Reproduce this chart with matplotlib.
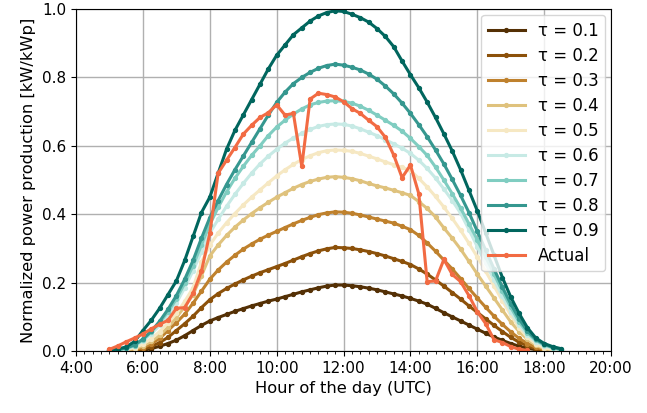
import numpy as np
import matplotlib
matplotlib.use("Agg")
import matplotlib.pyplot as plt
from matplotlib.ticker import MultipleLocator, FuncFormatter

# 15-minute time steps, 5:00 .. 18:30 (hours of the day, UTC)
hours = np.arange(5.0, 18.5 + 0.01, 0.25)

taus = [0.1, 0.2, 0.3, 0.4, 0.5, 0.6, 0.7, 0.8, 0.9]

q10 = [0, 0, 0, 0, 0.002, 0.007, 0.014, 0.022, 0.032, 0.045, 0.06, 0.075,
       0.088, 0.098, 0.107, 0.116, 0.124, 0.132, 0.139, 0.146, 0.152, 0.159,
       0.166, 0.173, 0.179, 0.185, 0.19, 0.193, 0.193, 0.191, 0.188, 0.184,
       0.179, 0.173, 0.167, 0.161, 0.154, 0.146, 0.137, 0.125, 0.112, 0.1,
       0.088, 0.076, 0.064, 0.052, 0.041, 0.031, 0.022, 0.014, 0.008, 0.004,
       0.001, 0, 0]
q20 = [0, 0, 0, 0.001, 0.005, 0.013, 0.025, 0.04, 0.06, 0.08, 0.102, 0.127,
       0.15, 0.168, 0.183, 0.196, 0.208, 0.219, 0.229, 0.238, 0.247, 0.256,
       0.266, 0.276, 0.285, 0.293, 0.299, 0.303, 0.302, 0.3, 0.296, 0.291,
       0.285, 0.278, 0.27, 0.262, 0.253, 0.24, 0.225, 0.208, 0.19, 0.171,
       0.152, 0.132, 0.113, 0.094, 0.075, 0.057, 0.04, 0.026, 0.015, 0.007,
       0.002, 0, 0]
q30 = [0, 0, 0.001, 0.004, 0.01, 0.021, 0.037, 0.06, 0.083, 0.108, 0.14,
       0.175, 0.21, 0.237, 0.26, 0.28, 0.298, 0.313, 0.327, 0.339, 0.35,
       0.361, 0.372, 0.382, 0.391, 0.399, 0.404, 0.407, 0.406, 0.403, 0.398,
       0.392, 0.386, 0.38, 0.374, 0.365, 0.355, 0.338, 0.316, 0.292, 0.266,
       0.24, 0.212, 0.183, 0.155, 0.128, 0.102, 0.078, 0.056, 0.037, 0.022,
       0.011, 0.004, 0.001, 0]
q40 = [0, 0.001, 0.003, 0.007, 0.015, 0.028, 0.046, 0.07, 0.098, 0.13,
       0.165, 0.22, 0.278, 0.31, 0.338, 0.362, 0.383, 0.402, 0.419, 0.435,
       0.45, 0.463, 0.476, 0.487, 0.496, 0.503, 0.508, 0.51, 0.508, 0.504,
       0.498, 0.49, 0.483, 0.477, 0.47, 0.463, 0.455, 0.437, 0.417, 0.392,
       0.36, 0.33, 0.298, 0.262, 0.225, 0.19, 0.155, 0.12, 0.085, 0.057,
       0.034, 0.017, 0.007, 0.002, 0]
q50 = [0, 0.002, 0.005, 0.01, 0.02, 0.036, 0.057, 0.082, 0.11, 0.145, 0.185,
       0.26, 0.31, 0.345, 0.375, 0.402, 0.427, 0.45, 0.471, 0.492, 0.512,
       0.53, 0.546, 0.56, 0.571, 0.58, 0.586, 0.588, 0.587, 0.584, 0.578,
       0.57, 0.562, 0.553, 0.545, 0.537, 0.528, 0.505, 0.48, 0.452, 0.421,
       0.388, 0.353, 0.315, 0.275, 0.233, 0.19, 0.147, 0.105, 0.068, 0.04,
       0.021, 0.01, 0.004, 0.001]
q60 = [0.001, 0.003, 0.006, 0.014, 0.03, 0.05, 0.075, 0.105, 0.14, 0.185,
       0.235, 0.29, 0.345, 0.385, 0.423, 0.458, 0.49, 0.52, 0.547, 0.57,
       0.59, 0.608, 0.623, 0.637, 0.648, 0.657, 0.662, 0.664, 0.663, 0.658,
       0.65, 0.64, 0.63, 0.618, 0.606, 0.593, 0.578, 0.558, 0.534, 0.506,
       0.474, 0.44, 0.403, 0.355, 0.305, 0.257, 0.208, 0.16, 0.115, 0.076,
       0.047, 0.027, 0.015, 0.008, 0.003]
q70 = [0.002, 0.004, 0.008, 0.016, 0.033, 0.056, 0.083, 0.115, 0.152,
       0.198, 0.25, 0.31, 0.37, 0.42, 0.465, 0.505, 0.54, 0.572, 0.6, 0.63,
       0.655, 0.675, 0.693, 0.708, 0.72, 0.727, 0.731, 0.732, 0.73, 0.725,
       0.716, 0.704, 0.69, 0.675, 0.66, 0.643, 0.622, 0.598, 0.572, 0.538,
       0.5, 0.46, 0.418, 0.372, 0.325, 0.275, 0.225, 0.175, 0.128, 0.085,
       0.053, 0.031, 0.018, 0.01, 0.004]
q80 = [0.002, 0.004, 0.009, 0.018, 0.035, 0.058, 0.087, 0.122, 0.162, 0.21,
       0.265, 0.33, 0.39, 0.44, 0.487, 0.53, 0.57, 0.61, 0.65, 0.69, 0.727,
       0.757, 0.782, 0.8, 0.815, 0.827, 0.835, 0.839, 0.836, 0.83, 0.822,
       0.81, 0.795, 0.775, 0.752, 0.725, 0.695, 0.662, 0.627, 0.588, 0.547,
       0.502, 0.455, 0.405, 0.35, 0.295, 0.24, 0.187, 0.138, 0.094, 0.058,
       0.034, 0.02, 0.011, 0.005]
q90 = [0.003, 0.006, 0.012, 0.028, 0.06, 0.09, 0.125, 0.165, 0.205, 0.265,
       0.335, 0.405, 0.45, 0.52, 0.59, 0.645, 0.69, 0.735, 0.78, 0.825,
       0.865, 0.895, 0.925, 0.945, 0.965, 0.98, 0.99, 0.995, 0.993, 0.985,
       0.975, 0.962, 0.943, 0.92, 0.89, 0.848, 0.808, 0.77, 0.728, 0.683,
       0.635, 0.585, 0.53, 0.47, 0.41, 0.345, 0.28, 0.215, 0.158, 0.11,
       0.068, 0.038, 0.022, 0.013, 0.007]

actual = [0.005, 0.015, 0.027, 0.038, 0.05, 0.065, 0.078, 0.09, 0.125, 0.127,
          0.169, 0.233, 0.344, 0.52, 0.558, 0.595, 0.634, 0.66, 0.683, 0.697,
          0.72, 0.69, 0.695, 0.54, 0.737, 0.754, 0.75, 0.743, 0.729, 0.709,
          0.695, 0.675, 0.656, 0.625, 0.573, 0.507, 0.544, 0.46, 0.203, 0.205,
          0.268, 0.224, 0.203, 0.162, 0.115, 0.08, 0.033, 0.025, 0.013, 0.005,
          0.002, np.nan, np.nan, np.nan, np.nan]

quantiles = [q10, q20, q30, q40, q50, q60, q70, q80, q90]
colors = ['#543005', '#8c510a', '#bf812d', '#dfc27d', '#f6e8c3',
          '#c7eae5', '#80cdc1', '#35978f', '#01665e']

fig = plt.figure(figsize=(6.47, 4.13), dpi=100)
ax = fig.add_axes([0.1175, 0.150, 0.827, 0.828])

for tau, q, c in zip(taus, quantiles, colors):
    ax.plot(hours, q, color=c, lw=2.2, marker='o', ms=2.8, label=f'τ = {tau}')
ax.plot(hours, actual, color='#f26b43', lw=2.2, marker='o', ms=2.8, label='Actual')

ax.set_xlim(4, 20)
ax.set_ylim(0, 1)
ax.xaxis.set_major_locator(MultipleLocator(2))
ax.xaxis.set_minor_locator(MultipleLocator(0.25))
ax.xaxis.set_major_formatter(FuncFormatter(lambda v, p: f'{int(v)}:00'))
ax.yaxis.set_major_locator(MultipleLocator(0.2))
ax.tick_params(labelsize=11)
ax.grid(True, color='#b0b0b0', lw=1)

ax.set_xlabel('Hour of the day (UTC)', fontsize=11.7)
ax.set_ylabel('Normalized power production [kW/kWp]', fontsize=11.7)
ax.legend(loc='upper right', fontsize=12, handlelength=2.2,
          labelspacing=0.42, borderaxespad=0.35)

fig.savefig('out.png', dpi=100)
